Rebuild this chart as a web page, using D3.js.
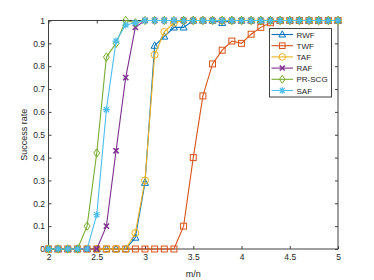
<!DOCTYPE html>
<html>
<head>
<meta charset="utf-8">
<script src="https://cdn.jsdelivr.net/npm/d3@7"></script>
<style>
  body { margin: 0; background: #fff; }
  svg { font-family: "Liberation Sans", Arial, sans-serif; }
</style>
</head>
<body>
<svg id="chart"></svg>
<script>
// m/n sample points
const ratios = [2, 2.1, 2.2, 2.3, 2.4, 2.5, 2.6, 2.7, 2.8, 2.9, 3, 3.1, 3.2, 3.3, 3.4, 3.5,
  3.6, 3.7, 3.8, 3.9, 4, 4.1, 4.2, 4.3, 4.4, 4.5, 4.6, 4.7, 4.8, 4.9, 5];

const rwf = [0, 0, 0, 0, 0, 0, 0, 0, 0, 0.05, 0.29, 0.89, 0.93, 0.97, 0.97, 1,
  1, 1, 0.99, 1, 1, 1, 1, 1, 1, 1, 1, 1, 1, 1, 1];
const twf = [0, 0, 0, 0, 0, 0, 0, 0, 0, 0, 0, 0, 0, 0, 0.1, 0.4,
  0.67, 0.81, 0.87, 0.91, 0.9, 0.94, 0.97, 0.99, 1, 1, 1, 1, 1, 1, 1];
const taf = [0, 0, 0, 0, 0, 0, 0, 0, 0, 0.07, 0.3, 0.85, 0.95, 0.99, 1, 1,
  1, 1, 1, 1, 1, 1, 1, 1, 1, 1, 1, 1, 1, 1, 1];
const raf = [0, 0, 0, 0, 0, 0, 0.1, 0.43, 0.75, 0.97, 1, 1, 1, 1, 1, 1,
  1, 1, 1, 1, 1, 1, 1, 1, 1, 1, 1, 1, 1, 1, 1];
const prscg = [0, 0, 0, 0, 0.1, 0.42, 0.84, 0.9, 1, 0.99, 1, 1, 1, 1, 1, 1,
  1, 1, 1, 1, 1, 1, 1, 1, 1, 1, 1, 1, 1, 1, 1];
const saf = [0, 0, 0, 0, 0, 0.15, 0.61, 0.91, 0.98, 0.99, 1, 1, 1, 1, 1, 1,
  1, 1, 1, 1, 1, 1, 1, 1, 1, 1, 1, 1, 1, 1, 1];

const xTicks = [2, 2.5, 3, 3.5, 4, 4.5, 5];
const yTicks = [0, 0.1, 0.2, 0.3, 0.4, 0.5, 0.6, 0.7, 0.8, 0.9, 1];

const series = [
  { name: "RWF", values: rwf, color: "#0072BD", marker: "triangle" },
  { name: "TWF", values: twf, color: "#D95319", marker: "square" },
  { name: "TAF", values: taf, color: "#EDB120", marker: "circle" },
  { name: "RAF", values: raf, color: "#7E2F8E", marker: "cross" },
  { name: "PR-SCG", values: prscg, color: "#77AC30", marker: "diamond" },
  { name: "SAF", values: saf, color: "#4DBEEE", marker: "asterisk" }
];

const W = 374, H = 280;
const margin = { top: 20.5, right: 36, bottom: 31, left: 48.5 };
const width = W - margin.left - margin.right;
const height = H - margin.top - margin.bottom;
const axisColor = "#404040";

const svg = d3.select("#chart").attr("width", W).attr("height", H);
const g = svg.append("g").attr("transform", "translate(" + margin.left + "," + margin.top + ")");

const x = d3.scaleLinear().domain([2, 5]).range([0, width]);
const y = d3.scaleLinear().domain([0, 1]).range([height, 0]);

// axes, MATLAB box style with inward ticks
function styleAxis(sel) {
  sel.select(".domain").remove();
  sel.selectAll(".tick line").attr("stroke", axisColor);
  sel.selectAll(".tick text").attr("fill", "#262626").style("font-size", "8.5px");
}

g.append("g")
  .attr("transform", "translate(0," + height + ")")
  .call(d3.axisBottom(x).tickValues(xTicks).tickFormat(d3.format("")).tickSizeInner(-3).tickPadding(5))
  .call(styleAxis);
g.append("g")
  .call(d3.axisTop(x).tickValues(xTicks).tickFormat("").tickSizeInner(-3))
  .call(styleAxis);
g.append("g")
  .call(d3.axisLeft(y).tickValues(yTicks).tickFormat(d3.format("")).tickSizeInner(-3).tickPadding(3.5))
  .call(styleAxis);
g.append("g")
  .attr("transform", "translate(" + width + ",0)")
  .call(d3.axisRight(y).tickValues(yTicks).tickFormat("").tickSizeInner(-3))
  .call(styleAxis);

g.append("rect")
  .attr("width", width).attr("height", height)
  .attr("fill", "none").attr("stroke", axisColor).attr("stroke-width", 1);

// labels
svg.append("text")
  .attr("x", margin.left + width / 2).attr("y", 277)
  .attr("text-anchor", "middle").style("font-size", "9px").attr("fill", "#262626")
  .text("m/n");
svg.append("text")
  .attr("transform", "translate(27," + (margin.top + height / 2) + ") rotate(-90)")
  .attr("text-anchor", "middle").style("font-size", "9px").attr("fill", "#262626")
  .text("Success rate");

// marker drawing
function drawMarker(sel, type, color, r) {
  if (type === "circle") {
    sel.append("circle").attr("r", r).attr("fill", "none").attr("stroke", color);
  } else if (type === "square") {
    sel.append("rect").attr("x", -r * 0.85).attr("y", -r * 0.85)
      .attr("width", r * 1.7).attr("height", r * 1.7).attr("fill", "none").attr("stroke", color);
  } else if (type === "triangle") {
    sel.append("path").attr("d", `M0,${-r * 1.1}L${r},${r * 0.75}L${-r},${r * 0.75}Z`)
      .attr("fill", "none").attr("stroke", color);
  } else if (type === "diamond") {
    sel.append("path").attr("d", `M0,${-r * 1.2}L${r * 0.85},0L0,${r * 1.2}L${-r * 0.85},0Z`)
      .attr("fill", "none").attr("stroke", color);
  } else if (type === "cross") {
    const c = r * 0.75;
    sel.append("path").attr("d", `M${-c},${-c}L${c},${c}M${-c},${c}L${c},${-c}`)
      .attr("stroke", color).attr("stroke-width", 1.5);
  } else if (type === "asterisk") {
    const c = r * 0.75;
    sel.append("path")
      .attr("d", `M${-r},0L${r},0M0,${-r}L0,${r}M${-c},${-c}L${c},${c}M${-c},${c}L${c},${-c}`)
      .attr("stroke", color).attr("stroke-width", 1.2);
  }
}

const line = d3.line().x(d => x(d[0])).y(d => y(d[1]));

series.forEach(s => {
  const pts = ratios.map((r, i) => [r, s.values[i]]);
  const sg = g.append("g");
  sg.append("path").datum(pts)
    .attr("d", line).attr("fill", "none").attr("stroke", s.color).attr("stroke-width", 1.1);
  sg.selectAll(".m").data(pts).enter().append("g")
    .attr("transform", d => "translate(" + x(d[0]) + "," + y(d[1]) + ")")
    .each(function () { drawMarker(d3.select(this), s.marker, s.color, 3.5); });
});

// legend
const lg = svg.append("g").attr("transform", "translate(269.5,28.5)");
lg.append("rect").attr("width", 62).attr("height", 68.5)
  .attr("fill", "#fff").attr("stroke", axisColor).attr("stroke-width", 1);
series.forEach((s, i) => {
  const row = lg.append("g").attr("transform", "translate(0," + (6 + i * 11.2) + ")");
  row.append("line").attr("x1", 2).attr("x2", 23.5)
    .attr("stroke", s.color).attr("stroke-width", 1.1);
  const mk = row.append("g").attr("transform", "translate(12.75,0)");
  drawMarker(mk, s.marker, s.color, 3.3);
  row.append("text").attr("x", 27).attr("y", 3)
    .style("font-size", "8px").attr("fill", "#262626").text(s.name);
});
</script>
</body>
</html>
